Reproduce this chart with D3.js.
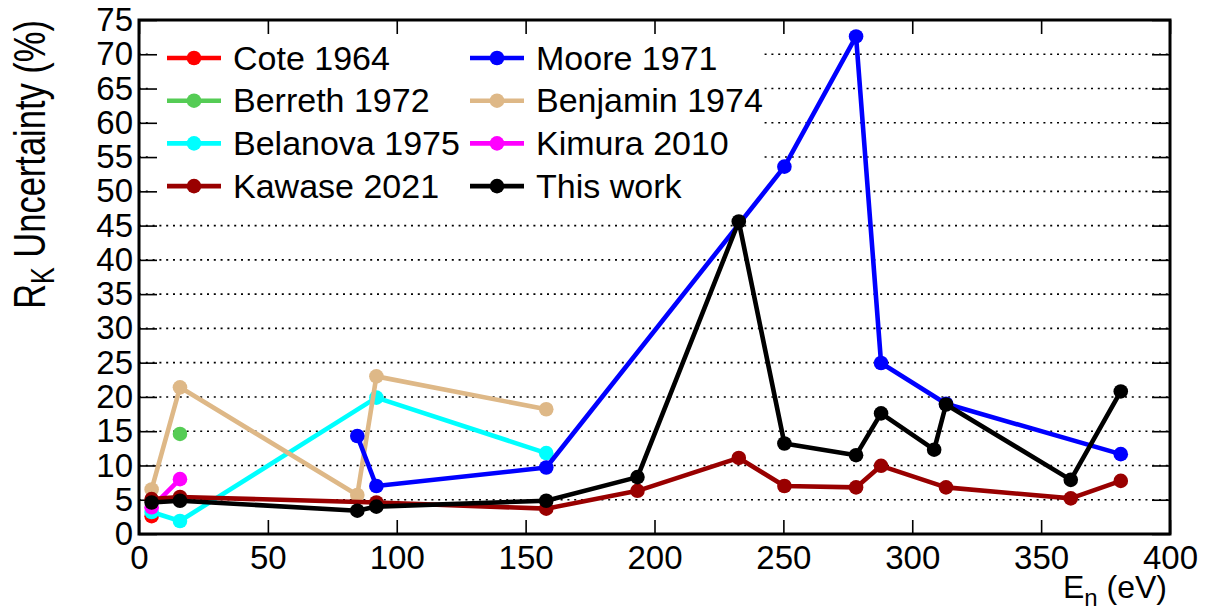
<!DOCTYPE html>
<html>
<head>
<meta charset="utf-8">
<script src="https://cdn.jsdelivr.net/npm/d3@7"></script>
<style>
  body { margin: 0; background: #fff; }
  text { font-family: "Liberation Sans", Arial, sans-serif; fill: #000; }
</style>
</head>
<body>
<div id="chart"></div>
<script>
// data (E in eV, uncertainty in %)
const coteE = [4.9];
const coteV = [2.6];
const mooreE = [84.7, 92.1, 158, 250.4, 278.2, 287.9, 313.1, 380.9];
const mooreV = [14.3, 7.0, 9.7, 53.6, 72.6, 24.95, 19.0, 11.65];
const berrethE = [15.9];
const berrethV = [14.6];
const benjaminE = [4.9, 15.9, 84.7, 92.1, 158];
const benjaminV = [6.5, 21.4, 5.7, 23.0, 18.2];
const belanovaE = [4.9, 15.9, 92.1, 158];
const belanovaV = [3.2, 1.9, 19.9, 11.8];
const kimuraE = [4.9, 15.9];
const kimuraV = [3.9, 8.0];
const kawaseE = [4.9, 15.9, 92.1, 158, 193.4, 232.7, 250.4, 278.2, 287.9, 313.1, 361.5, 380.9];
const kawaseV = [5.1, 5.4, 4.6, 3.7, 6.3, 11.1, 7.0, 6.8, 9.95, 6.8, 5.2, 7.75];
const thisE = [4.9, 15.9, 84.7, 92.1, 158, 193.4, 232.7, 250.4, 278.2, 287.9, 308.5, 313.1, 361.5, 380.9];
const thisV = [4.6, 4.85, 3.4, 4.0, 4.85, 8.3, 45.6, 13.2, 11.5, 17.6, 12.3, 18.9, 7.9, 20.8];

const xTicks = [0, 50, 100, 150, 200, 250, 300, 350, 400];
const yTicks = d3.range(0, 80, 5);

const series = [
  { name: "Cote 1964", color: "#ff0000", E: coteE, V: coteV },
  { name: "Berreth 1972", color: "#55cc55", E: berrethE, V: berrethV },
  { name: "Belanova 1975", color: "#00ffff", E: belanovaE, V: belanovaV },
  { name: "Benjamin 1974", color: "#deb887", E: benjaminE, V: benjaminV },
  { name: "Kimura 2010", color: "#ff00ff", E: kimuraE, V: kimuraV },
  { name: "Moore 1971", color: "#0000ff", E: mooreE, V: mooreV },
  { name: "Kawase 2021", color: "#990000", E: kawaseE, V: kawaseV },
  { name: "This work", color: "#000000", E: thisE, V: thisV },
];
const legendCols = [
  ["Cote 1964", "Berreth 1972", "Belanova 1975", "Kawase 2021"],
  ["Moore 1971", "Benjamin 1974", "Kimura 2010", "This work"],
];

const W = 1207, H = 611;
const svg = d3.select("#chart").append("svg").attr("width", W).attr("height", H);

const x = d3.scaleLinear().domain([0, 400]).range([139, 1170]);
const y = d3.scaleLinear().domain([0, 75]).range([534, 20]);

// dotted horizontal grid
svg.append("g")
  .selectAll("line")
  .data(yTicks.filter((d) => d < 75))
  .join("line")
  .attr("x1", x(0)).attr("x2", x(400))
  .attr("y1", (d) => y(d)).attr("y2", (d) => y(d))
  .attr("stroke", "#000")
  .attr("stroke-width", 1.6)
  .attr("stroke-dasharray", "2,4.8");

// legend background hides the grid behind it
svg.append("rect").attr("x", 150).attr("y", 30).attr("width", 612).attr("height", 172).attr("fill", "#fff");

// axes: ticks point inward on all four sides
const axLeft = svg.append("g").attr("transform", `translate(${x(0)},0)`);
axLeft.call(d3.axisLeft(y).tickValues(d3.range(0, 76, 1)).tickSize(-14).tickFormat(""));
axLeft.call(d3.axisLeft(y).tickValues(yTicks).tickSize(-18).tickPadding(6).tickFormat(d3.format("d")));
const axRight = svg.append("g").attr("transform", `translate(${x(400)},0)`);
axRight.call(d3.axisRight(y).tickValues(d3.range(0, 76, 1)).tickSize(-14).tickFormat(""));
axRight.call(d3.axisRight(y).tickValues(yTicks).tickSize(-18).tickFormat(""));
const axBottom = svg.append("g").attr("transform", `translate(0,${y(0)})`);
axBottom.call(d3.axisBottom(x).tickValues(d3.range(0, 401, 10)).tickSize(-7).tickFormat(""));
axBottom.call(d3.axisBottom(x).tickValues(xTicks).tickSize(-14).tickPadding(12).tickFormat(d3.format("d")));
const axTop = svg.append("g").attr("transform", `translate(0,${y(75)})`);
axTop.call(d3.axisTop(x).tickValues(d3.range(0, 401, 10)).tickSize(-7).tickFormat(""));
axTop.call(d3.axisTop(x).tickValues(xTicks).tickSize(-14).tickFormat(""));

svg.selectAll(".domain").remove();
svg.selectAll(".tick line").attr("stroke", "#000").attr("stroke-width", 1.6);
axLeft.selectAll("text").attr("font-size", 33).attr("font-family", "Liberation Sans, Arial, sans-serif");
axBottom.selectAll("text").attr("font-size", 33).attr("font-family", "Liberation Sans, Arial, sans-serif");

// frame
svg.append("rect")
  .attr("x", x(0)).attr("y", y(75))
  .attr("width", x(400) - x(0)).attr("height", y(0) - y(75))
  .attr("fill", "none").attr("stroke", "#000").attr("stroke-width", 3);

// series
const line = d3.line().x((d) => x(d[0])).y((d) => y(d[1]));
const plot = svg.append("g");
series.forEach((s) => {
  const pts = s.E.map((e, i) => [e, s.V[i]]);
  const g = plot.append("g");
  if (pts.length > 1) {
    g.append("path").attr("d", line(pts)).attr("fill", "none")
      .attr("stroke", s.color).attr("stroke-width", 4.6).attr("stroke-linejoin", "round");
  }
  g.selectAll("circle").data(pts).join("circle")
    .attr("cx", (d) => x(d[0])).attr("cy", (d) => y(d[1])).attr("r", 7.3)
    .attr("fill", s.color);
});

// legend entries
const leg = svg.append("g");
const colX = [167, 470];
legendCols.forEach((col, ci) => {
  col.forEach((name, ri) => {
    const s = series.find((d) => d.name === name);
    const cy = 58 + ri * 42.7;
    const x0 = colX[ci];
    leg.append("line").attr("x1", x0).attr("x2", x0 + 54).attr("y1", cy).attr("y2", cy)
      .attr("stroke", s.color).attr("stroke-width", 4.6);
    leg.append("circle").attr("cx", x0 + 27).attr("cy", cy).attr("r", 7.3).attr("fill", s.color);
    leg.append("text").attr("x", x0 + 66).attr("y", cy + 11.5).attr("font-size", 34).text(name);
  });
});

// axis titles
const xt = svg.append("text").attr("x", 1167).attr("y", 598).attr("text-anchor", "end").attr("font-size", 32);
xt.append("tspan").text("E");
xt.append("tspan").attr("font-size", 24).attr("dy", 8).text("n");
xt.append("tspan").attr("dy", -8).text(" (eV)");

const yt = svg.append("text")
  .attr("transform", "translate(45,20) rotate(-90) scale(1,1.3)")
  .attr("text-anchor", "end").attr("font-size", 34.5);
yt.append("tspan").text("R");
yt.append("tspan").attr("font-size", 25).attr("dy", 7).text("K");
yt.append("tspan").attr("dy", -7).text(" Uncertainty (%)");
</script>
</body>
</html>
